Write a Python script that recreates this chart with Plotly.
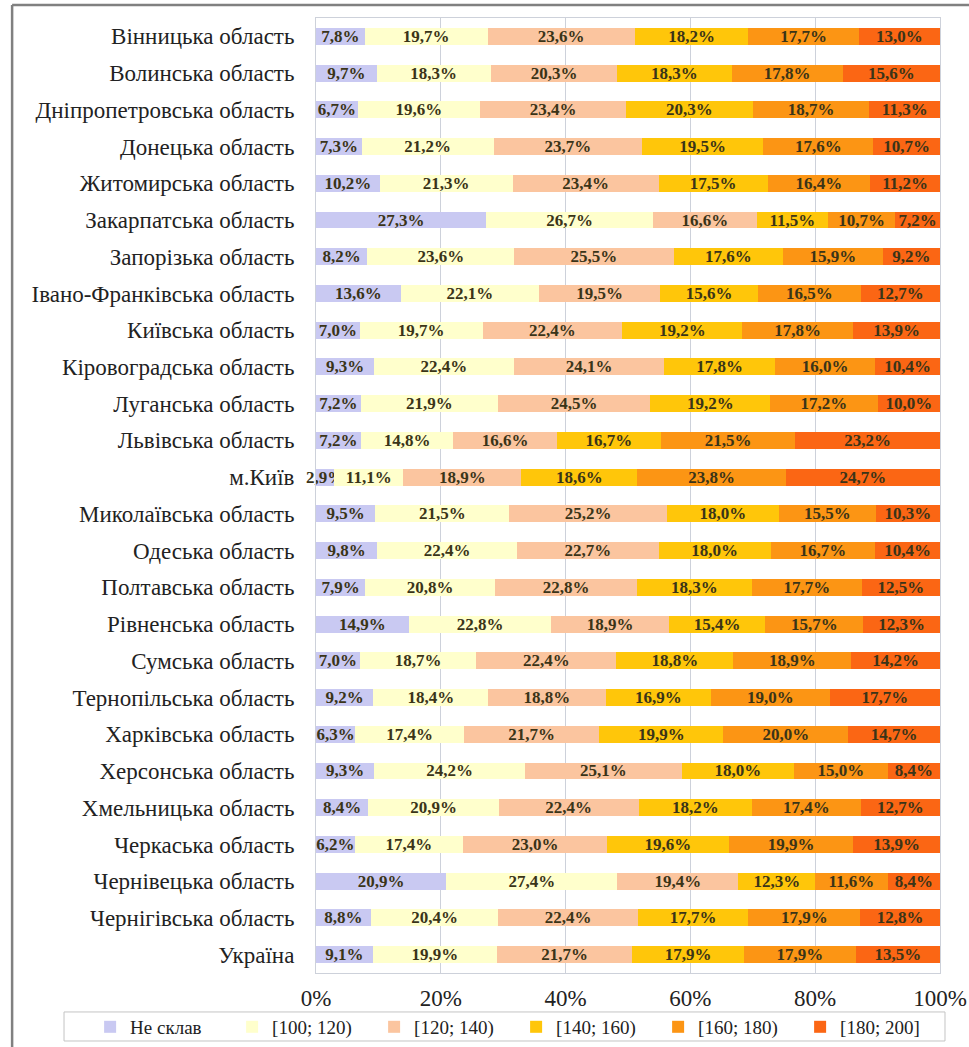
import plotly.graph_objects as go

# Regions (top to bottom) and shares of each score range, %
regions = [
    "Вінницька область", "Волинська область", "Дніпропетровська область",
    "Донецька область", "Житомирська область", "Закарпатська область",
    "Запорізька область", "Івано-Франківська область", "Київська область",
    "Кіровоградська область", "Луганська область", "Львівська область",
    "м.Київ", "Миколаївська область", "Одеська область", "Полтавська область",
    "Рівненська область", "Сумська область", "Тернопільська область",
    "Харківська область", "Херсонська область", "Хмельницька область",
    "Черкаська область", "Чернівецька область", "Чернігівська область",
    "Україна",
]

series_names = ["Не склав", "[100; 120)", "[120; 140)", "[140; 160)", "[160; 180)", "[180; 200]"]

ne_sklav = [7.8, 9.7, 6.7, 7.3, 10.2, 27.3, 8.2, 13.6, 7.0, 9.3, 7.2, 7.2, 2.9,
            9.5, 9.8, 7.9, 14.9, 7.0, 9.2, 6.3, 9.3, 8.4, 6.2, 20.9, 8.8, 9.1]
r100_120 = [19.7, 18.3, 19.6, 21.2, 21.3, 26.7, 23.6, 22.1, 19.7, 22.4, 21.9, 14.8, 11.1,
            21.5, 22.4, 20.8, 22.8, 18.7, 18.4, 17.4, 24.2, 20.9, 17.4, 27.4, 20.4, 19.9]
r120_140 = [23.6, 20.3, 23.4, 23.7, 23.4, 16.6, 25.5, 19.5, 22.4, 24.1, 24.5, 16.6, 18.9,
            25.2, 22.7, 22.8, 18.9, 22.4, 18.8, 21.7, 25.1, 22.4, 23.0, 19.4, 22.4, 21.7]
r140_160 = [18.2, 18.3, 20.3, 19.5, 17.5, 11.5, 17.6, 15.6, 19.2, 17.8, 19.2, 16.7, 18.6,
            18.0, 18.0, 18.3, 15.4, 18.8, 16.9, 19.9, 18.0, 18.2, 19.6, 12.3, 17.7, 17.9]
r160_180 = [17.7, 17.8, 18.7, 17.6, 16.4, 10.7, 15.9, 16.5, 17.8, 16.0, 17.2, 21.5, 23.8,
            15.5, 16.7, 17.7, 15.7, 18.9, 19.0, 20.0, 15.0, 17.4, 19.9, 11.6, 17.9, 17.9]
r180_200 = [13.0, 15.6, 11.3, 10.7, 11.2, 7.2, 9.2, 12.7, 13.9, 10.4, 10.0, 23.2, 24.7,
            10.3, 10.4, 12.5, 12.3, 14.2, 17.7, 14.7, 8.4, 12.7, 13.9, 8.4, 12.8, 13.5]

x_ticks = [0, 20, 40, 60, 80, 100]
x_tick_labels = ["0%", "20%", "40%", "60%", "80%", "100%"]

colors = ["#c9c9f2", "#ffffcc", "#fbc59f", "#ffc60a", "#fc9514", "#fb6614"]
series = [ne_sklav, r100_120, r120_140, r140_160, r160_180, r180_200]

SERIF = "Liberation Serif, Times New Roman, serif"


def pct(v):
    return f"{v:.1f}%".replace(".", ",")


fig = go.Figure()
for name, vals, col in zip(series_names, series, colors):
    fig.add_trace(go.Bar(
        y=regions, x=vals, name=name, orientation="h",
        marker=dict(color=col, line=dict(width=0)),
        text=[pct(v) for v in vals],
        textposition="inside", insidetextanchor="middle",
        textangle=0, constraintext="none", cliponaxis=False,
        textfont=dict(family=SERIF, size=17, color="#3a3418", weight="bold"),
        hoverinfo="skip",
    ))

grid_col = "#cdd1da"
fig.update_layout(
    barmode="stack",
    bargap=0.54,
    width=969, height=1047,
    margin=dict(l=316, r=29, t=18, b=74, autoexpand=False),
    paper_bgcolor="white", plot_bgcolor="white",
    font=dict(family=SERIF, color="#222222"),
    showlegend=True,
    legend=dict(
        orientation="h",
        x=-0.362, xanchor="left", y=-0.0565, yanchor="middle",
        font=dict(family=SERIF, size=19, color="#222222"),
        borderwidth=0, bgcolor="rgba(0,0,0,0)",
        entrywidth=97, entrywidthmode="pixels",
        itemwidth=30, traceorder="normal",
    ),
    xaxis=dict(
        # a hair past 100 so rounded row totals stay inside the range
        range=[0, 100.001], tickvals=x_ticks, ticktext=x_tick_labels,
        showgrid=True, gridcolor=grid_col, gridwidth=1,
        showline=True, linecolor=grid_col, mirror=True,
        zeroline=False, ticks="",
        tickfont=dict(family=SERIF, size=23, color="#222222"),
        ticklabelstandoff=4,
    ),
    yaxis=dict(
        categoryorder="array", categoryarray=regions, autorange="reversed",
        showgrid=False, showline=True, linecolor=grid_col, mirror=True,
        ticks="", tickfont=dict(family=SERIF, size=23, color="#222222"),
        ticklabelstandoff=16,
    ),
)

# Legend frame
fig.add_shape(type="rect", xref="paper", yref="paper", layer="below",
              x0=-0.4038, x1=1.008, y0=-0.0408, y1=-0.0712,
              line=dict(color="#c4c4c4", width=1), fillcolor="white")

# Outer frame lines (top and left)
frame = dict(color="#808080", width=2.5)
fig.add_shape(type="line", xref="paper", yref="paper",
              x0=-0.487, x1=1.05, y0=1.0136, y1=1.0136, line=frame)
fig.add_shape(type="line", xref="paper", yref="paper",
              x0=-0.487, x1=-0.487, y0=1.0136, y1=-0.08, line=frame)

fig.write_html("out.html")
